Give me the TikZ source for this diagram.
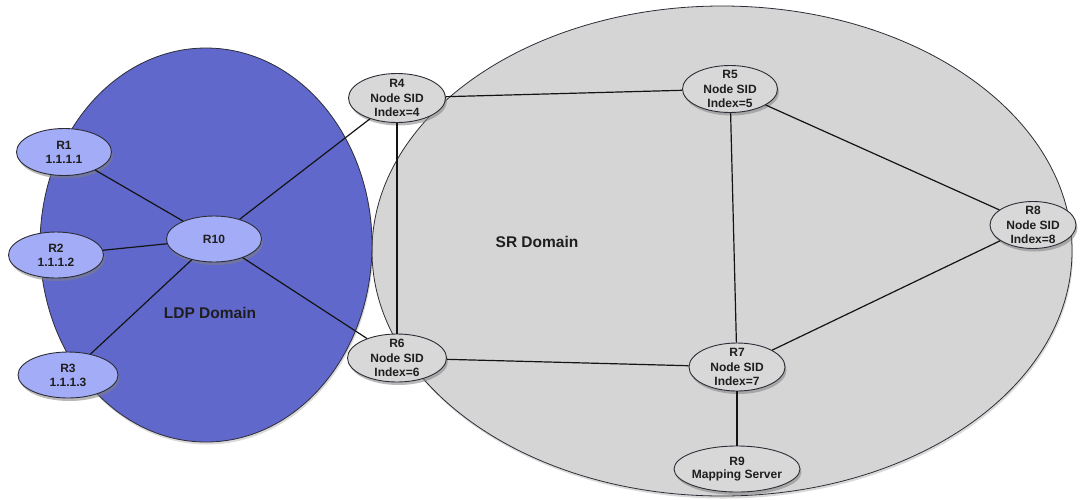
\documentclass[tikz,border=0pt]{standalone}
\usepackage{fontspec}
\setmainfont{Liberation Sans}
\usetikzlibrary{shapes.geometric,shadows}
\definecolor{ldpblue}{RGB}{96,104,204}
\definecolor{ldpnode}{RGB}{163,172,246}
\definecolor{srgray}{RGB}{213,213,213}
\definecolor{srnode}{RGB}{216,216,216}
\definecolor{edgedark}{RGB}{45,45,55}
\definecolor{txt}{RGB}{30,30,30}
\begin{document}
\begin{tikzpicture}[x=1pt,y=-1pt,
  domainshape/.style={ellipse, draw=edgedark, line width=0.8pt, inner sep=0pt,
    drop shadow={shadow xshift=1pt, shadow yshift=-2.5pt, opacity=0.3}},
  router/.style={ellipse, draw=edgedark, line width=0.9pt, inner xsep=-4pt, inner ysep=-8pt,
    align=center, text=txt,
    font=\bfseries\fontsize{12}{14.8}\selectfont,
    drop shadow={shadow xshift=1.5pt, shadow yshift=-3pt, opacity=0.55}},
  ldprouter/.style={router, fill=ldpnode, minimum width=95pt, minimum height=46pt},
  srrouter/.style={router, fill=srnode, minimum width=96pt, minimum height=48pt},
  domainlabel/.style={font=\bfseries\fontsize{15.5}{18}\selectfont, text=txt},
  link/.style={line width=1.2pt, draw=black!92}
]
\useasboundingbox (0,0) rectangle (1086,499);
% domains
\node[domainshape, fill=srgray, minimum width=700pt, minimum height=490pt] (sr) at (722,251) {};
\node[domainshape, fill=ldpblue, minimum width=332pt, minimum height=394pt] (ldp) at (206,245) {};
\node[domainlabel] (ldplabel) at (210,313) {LDP Domain};
\node[domainlabel] (srlabel) at (537,242) {SR Domain};
% routers
\node[ldprouter, minimum height=47pt] (R1) at (64,152) {R1\\[-1pt]1.1.1.1};
\node[ldprouter] (R2) at (56,255) {R2\\[-1pt]1.1.1.2};
\node[ldprouter, minimum width=100pt] (R3) at (68,375) {R3\\[-1pt]1.1.1.3};
\node[ldprouter] (R10) at (214,239) {R10};
\node[srrouter, minimum width=97pt, minimum height=49pt] (R4) at (397,98) {R4\\Node SID\\Index=4};
\node[srrouter, minimum width=95pt, minimum height=47pt] (R5) at (730,89) {R5\\Node SID\\Index=5};
\node[srrouter, minimum width=99pt] (R6) at (397,358) {R6\\Node SID\\Index=6};
\node[srrouter] (R7) at (737,367) {R7\\Node SID\\Index=7};
\node[srrouter, minimum width=86pt, minimum height=47pt] (R8) at (1033,225) {R8\\Node SID\\Index=8};
\node[srrouter, minimum width=126pt, minimum height=46pt] (R9) at (737,469) {R9\\[-1pt]Mapping Server};
% links
\draw[link] (R1) -- (R10);
\draw[link] (R2) -- (R10);
\draw[link] (R3) -- (R10);
\draw[link] (R10) -- (R4);
\draw[link] (R10) -- (R6);
\draw[link] (R4) -- (R5);
\draw[link] (R4) -- (R6);
\draw[link] (R5) -- (R7);
\draw[link] (R5) -- (R8);
\draw[link] (R6) -- (R7);
\draw[link] (R7) -- (R8);
\draw[link] (R7) -- (R9);
\end{tikzpicture}
\end{document}
